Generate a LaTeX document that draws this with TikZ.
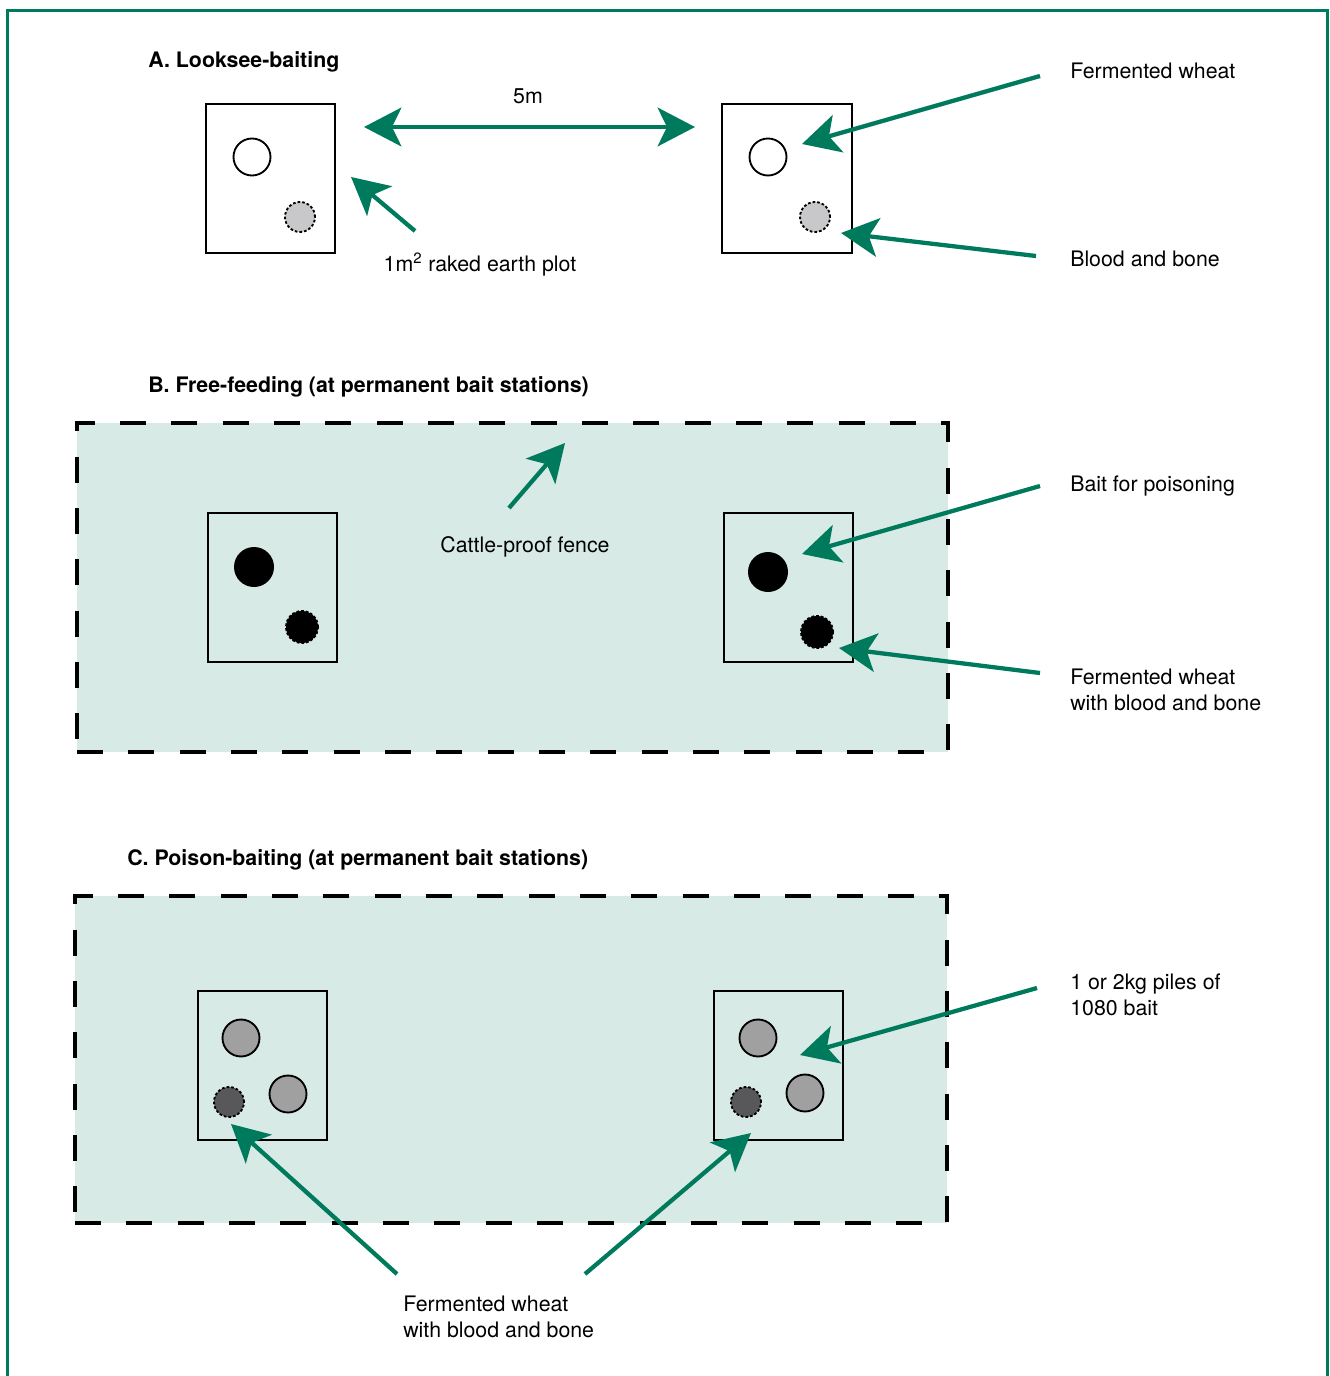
\documentclass[tikz,border=0pt]{standalone}
\usepackage{fontspec}
\setmainfont{TeX Gyre Heros}
\usetikzlibrary{arrows.meta}
\definecolor{tealgreen}{RGB}{0,122,92}
\definecolor{fieldfill}{RGB}{216,234,229}
\definecolor{lightbait}{RGB}{200,200,202}
\definecolor{midbait}{RGB}{160,160,160}
\definecolor{darkbait}{RGB}{88,88,90}
\begin{document}
\begin{tikzpicture}[x=0.75pt,y=-0.75pt,
  plotbox/.style={draw=black,line width=1.5pt,minimum width=97pt,minimum height=112pt,inner sep=0pt},
  fence/.style={draw=black,fill=fieldfill,line width=3pt,dash pattern=on 19.5pt off 19pt,inner sep=0pt},
  pile/.style={circle,draw=black,line width=1.4pt,inner sep=0pt,minimum size=27.75pt},
  pilesmall/.style={circle,draw=black,line width=1.4pt,dash pattern=on 2pt off 1.5pt,inner sep=0pt,minimum size=22.5pt},
  solidbait/.style={circle,fill=black,inner sep=0pt,minimum size=30pt},
  garrow/.style={draw=tealgreen,line width=3.2pt,-{Stealth[length=28pt,width=29pt,inset=7pt]}},
  gdouble/.style={draw=tealgreen,line width=3.2pt,{Stealth[length=28pt,width=29pt,inset=7pt]}-{Stealth[length=28pt,width=29pt,inset=7pt]}},
  lbl/.style={font=\fontsize{16}{19.5}\selectfont,inner sep=0pt},
  heading/.style={font=\fontsize{16}{19.5}\selectfont\bfseries,inner sep=0pt,anchor=base west}]

\useasboundingbox (0,0) rectangle (1329,1376);
\fill[white] (0,0) rectangle (1329,1376);

% outer frame, open at the bottom edge
\draw[tealgreen,line width=2.3pt] (7.5,1376) -- (7.5,10.5) -- (1327.5,10.5) -- (1327.5,1376);

% ---------------- A. Looksee-baiting ----------------
\node[heading] (titleA) at (148,68) {A. Looksee-baiting};
\node[plotbox] (plotA1) at (270.5,178.5) {};
\node[plotbox] (plotA2) at (787,178.5) {};
\node[pile,fill=white] (wheatA1) at (252,157) {};
\node[pilesmall,fill=lightbait] (bloodA1) at (300,217) {};
\node[pile,fill=white] (wheatA2) at (768,157) {};
\node[pilesmall,fill=lightbait] (bloodA2) at (815,217) {};

\coordinate (spanL) at (364,127);
\coordinate (spanR) at (695,127);
\draw[gdouble] (spanL) -- (spanR);
\node[lbl,anchor=base] (dist) at (528,104) {5m};

\coordinate (plotFrom) at (415,231);
\coordinate (plotTip) at (351,177);
\draw[garrow] (plotFrom) -- (plotTip);
\node[lbl,anchor=base] (plotLbl) at (480,272) {1m\textsuperscript{2} raked earth plot};

\coordinate (fwFrom) at (1040,76);
\coordinate (fwTip) at (802,144);
\draw[garrow] (fwFrom) -- (fwTip);
\node[lbl,anchor=base west] (fwLbl) at (1070,79) {Fermented wheat};

\coordinate (bbFrom) at (1036,256);
\coordinate (bbTip) at (841,233);
\draw[garrow] (bbFrom) -- (bbTip);
\node[lbl,anchor=base west] (bbLbl) at (1070,267) {Blood and bone};

% ---------------- B. Free-feeding ----------------
\node[heading] (titleB) at (148,392) {B. Free-feeding (at permanent bait stations)};
\node[fence,minimum width=653.25pt,minimum height=246.75pt] (fenceB) at (512.5,587.5) {};
\node[plotbox] (plotB1) at (272.5,587.5) {};
\node[plotbox] (plotB2) at (788.5,587.5) {};
\node[solidbait] (poisonB1) at (254,567) {};
\node[pilesmall,fill=black,minimum size=24pt] (mixB1) at (302,627) {};
\node[solidbait] (poisonB2) at (768,572) {};
\node[pilesmall,fill=black,minimum size=24pt] (mixB2) at (817,632) {};

\coordinate (fenceFrom) at (509,508);
\coordinate (fenceTip) at (565,443);
\draw[garrow] (fenceFrom) -- (fenceTip);
\node[lbl,anchor=base] (fenceLbl) at (525,552) {Cattle-proof fence};

\coordinate (bpFrom) at (1040,486);
\coordinate (bpTip) at (802,554);
\draw[garrow] (bpFrom) -- (bpTip);
\node[lbl,anchor=base west] (bpLbl) at (1070,491) {Bait for poisoning};

\coordinate (fbFrom) at (1040,673);
\coordinate (fbTip) at (839,648);
\draw[garrow] (fbFrom) -- (fbTip);
% base of a two-line node is the baseline of its last line
\node[lbl,anchor=base west,align=left] (fbLbl) at (1070,710) {Fermented wheat\\with blood and bone};

% ---------------- C. Poison-baiting ----------------
\node[heading] (titleC) at (127,865) {C. Poison-baiting (at permanent bait stations)};
\node[fence,minimum width=654pt,minimum height=245.25pt] (fenceC) at (511,1059.5) {};
\node[plotbox] (plotC1) at (262.5,1065.5) {};
\node[plotbox] (plotC2) at (778.5,1065.5) {};
\node[pile,fill=midbait] (pileC1a) at (241,1038) {};
\node[pile,fill=midbait] (pileC1b) at (288,1094) {};
\node[pilesmall,fill=darkbait] (mixC1) at (229,1102) {};
\node[pile,fill=midbait] (pileC2a) at (758,1038) {};
\node[pile,fill=midbait] (pileC2b) at (805,1093) {};
\node[pilesmall,fill=darkbait] (mixC2) at (746,1102) {};

\coordinate (kgFrom) at (1037,988);
\coordinate (kgTip) at (800,1055);
\draw[garrow] (kgFrom) -- (kgTip);
\node[lbl,anchor=base west,align=left] (kgLbl) at (1070,1015) {1 or 2kg piles of\\1080 bait};

\coordinate (mixFromL) at (397,1274);
\coordinate (mixTipL) at (231,1124);
\coordinate (mixFromR) at (585,1274);
\coordinate (mixTipR) at (751,1133);
\draw[garrow] (mixFromL) -- (mixTipL);
\draw[garrow] (mixFromR) -- (mixTipR);
\node[lbl,anchor=base west,align=left] (mixLbl) at (403,1337) {Fermented wheat\\with blood and bone};

\end{tikzpicture}
\end{document}
